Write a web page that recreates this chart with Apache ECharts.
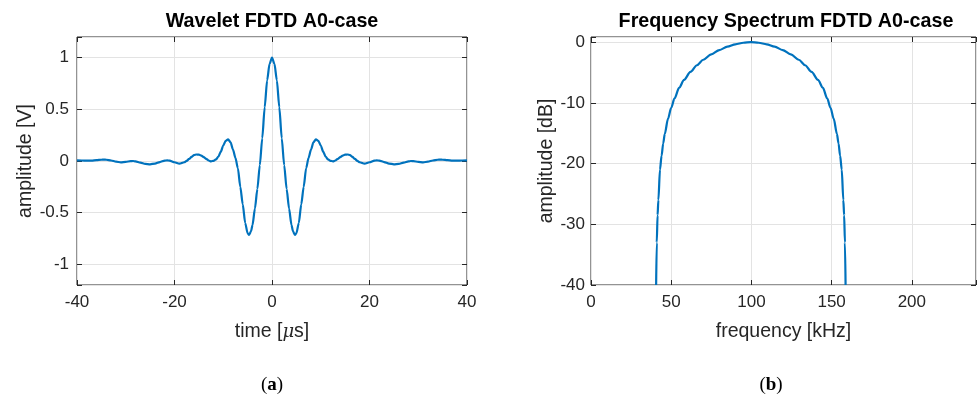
<!DOCTYPE html>
<html><head><meta charset="utf-8">
<script src="https://cdn.jsdelivr.net/npm/echarts@6/dist/echarts.min.js"></script>
<style>html,body{margin:0;padding:0;background:#fff}#c{width:979px;height:396px}</style>
</head><body><div id="c"></div>
<script>
// ---- Wavelet (time domain) ----
const timeUs = [-40,-39,-38,-37,-36,-35,-34.5,-34,-33,-32,-31,-30,-29,-28.5,-28,-27,-26,-25,-24,-23,-22,-21.5,-21,-20,-19,-18,-17.5,-17,-16.5,-16,-15.5,-15,-14.5,-14,-13.5,-13,-12.5,-12,-11.5,-11,-10.5,-10,-9.5,-9,-8.5,-8,-7.5,-7,-6.5,-6,-5.5,-5,-4.7,-4.3,-4,-3.5,-3,-2.5,-2,-1.5,-1,-0.5,0,0.5,1,1.5,2,2.5,3,3.5,4,4.3,4.7,5,5.5,6,6.5,7,7.5,8,8.5,9,9.5,10,10.5,11,11.5,12,12.5,13,13.5,14,14.5,15,15.5,16,16.5,17,17.5,18,19,20,21,21.5,22,23,24,25,26,27,28,28.5,29,30,31,32,33,34,34.5,35,36,37,38,39,40];
const waveletV = [0.006,0.005,0.004,0.004,0.008,0.012,0.013,0.012,0.005,-0.006,-0.013,-0.008,-0.002,0.0,-0.004,-0.015,-0.027,-0.032,-0.025,-0.01,0.004,0.006,0.003,-0.012,-0.026,-0.012,0.002,0.02,0.04,0.057,0.063,0.062,0.052,0.037,0.02,0.005,-0.003,0.002,0.015,0.042,0.09,0.15,0.195,0.21,0.18,0.11,0.03,-0.07,-0.25,-0.42,-0.60,-0.70,-0.715,-0.68,-0.62,-0.46,-0.27,-0.04,0.22,0.52,0.78,0.94,1.0,0.94,0.78,0.52,0.22,-0.04,-0.27,-0.46,-0.62,-0.68,-0.715,-0.70,-0.60,-0.42,-0.25,-0.07,0.03,0.11,0.18,0.21,0.195,0.15,0.09,0.042,0.015,0.002,-0.003,0.005,0.02,0.037,0.052,0.062,0.063,0.057,0.04,0.02,0.002,-0.012,-0.026,-0.012,0.003,0.006,0.004,-0.01,-0.025,-0.032,-0.027,-0.015,-0.004,0.0,-0.002,-0.008,-0.013,-0.006,0.005,0.012,0.013,0.012,0.008,0.004,0.004,0.005,0.006];
const waveXTicks = [-40,-20,0,20,40];
const waveYTicks = [-1,-0.5,0,0.5,1];

// ---- Frequency spectrum ----
const freqKHz = [40.6,41,41.5,42,43,44,45,46,48,50,52,55,58,62,66,70,75,80,85,90,95,99.7,104.5,109.5,114.5,119.5,124.5,129.5,133.5,137.5,141.5,144.5,147.3,149.3,151.3,153.3,154.3,155.3,156.3,157.3,157.8,158.3,158.7];
const spectrumDB = [-40,-33,-28.5,-26,-21,-18.7,-16.7,-15.1,-12.6,-10.8,-9.3,-7.5,-6.2,-4.9,-3.8,-2.9,-2.0,-1.3,-0.75,-0.35,-0.1,0,-0.1,-0.35,-0.75,-1.3,-2.0,-2.9,-3.8,-4.9,-6.2,-7.5,-9.3,-10.8,-12.6,-15.1,-16.7,-18.7,-21,-26,-28.5,-33,-40];
const specXTicks = [0,50,100,150,200];
const specYTicks = [-40,-30,-20,-10,0];

const AX = '#262626', GRID = '#e3e3e3', LINE = '#0072BD';
const FONT = 'Liberation Sans';
const tickFmt = ticks => v => ticks.some(t => Math.abs(t - v) < 1e-9) ? String(v) : '';

function mainX(grid, min, max, interval, ticks, name, extra) {
  return Object.assign({
    type: 'value', gridIndex: grid, min, max, interval, position: 'bottom',
    axisLine: {show: false, onZero: false},
    axisTick: {show: true, inside: true, length: 5, lineStyle: {color: AX}},
    axisLabel: {formatter: tickFmt(ticks), color: AX, fontFamily: FONT, fontSize: 17, margin: 9},
    splitLine: {show: true, lineStyle: {color: GRID, width: 1}},
    name, nameLocation: 'middle', nameGap: 37,
    nameTextStyle: {color: AX, fontFamily: FONT, fontSize: 19.5}
  }, extra || {});
}
function mainY(grid, min, max, interval, ticks, name, gap, margin) {
  const o = {
    type: 'value', gridIndex: grid, min, max, position: 'left',
    axisLine: {show: false, onZero: false},
    axisTick: {show: true, inside: true, length: 5, lineStyle: {color: AX}},
    axisLabel: {formatter: tickFmt(ticks), color: AX, fontFamily: FONT, fontSize: 17, margin},
    splitLine: {show: true, lineStyle: {color: GRID, width: 1}},
    name, nameLocation: 'middle', nameGap: gap,
    nameTextStyle: {color: AX, fontFamily: FONT, fontSize: 19.5}
  };
  if (interval != null) o.interval = interval; else o.splitNumber = 5;
  return o;
}
function tickOnly(grid, min, max, interval, pos) {
  const o = {
    type: 'value', gridIndex: grid, min, max, position: pos,
    axisLine: {show: false, onZero: false},
    axisTick: {show: true, inside: true, length: 5, lineStyle: {color: AX}},
    axisLabel: {show: false}, splitLine: {show: false}
  };
  if (interval != null) o.interval = interval; else o.splitNumber = 5;
  return o;
}

const chart = echarts.init(document.getElementById('c'), null, {renderer: 'canvas'});
chart.setOption({
  animation: false,
  backgroundColor: '#fff',
  grid: [
    {left: 77, top: 37, width: 390, height: 248, show: true, borderColor: AX, borderWidth: 1, containLabel: false},
    {left: 591, top: 37, width: 392, height: 248, show: true, borderColor: AX, borderWidth: 1, containLabel: false}
  ],
  xAxis: [
    mainX(0, -40, 40, 20, waveXTicks, 'time [{mu|μ}s]', {nameTextStyle: {color: AX, fontFamily: FONT, fontSize: 19.5,
      rich: {mu: {fontFamily: 'DejaVu Serif', fontStyle: 'italic', fontSize: 18, color: AX}}}}),
    mainX(1, 0, 240, 50, specXTicks, 'frequency [kHz]'),
    tickOnly(0, -40, 40, 20, 'top'),
    tickOnly(1, 0, 240, 50, 'top')
  ],
  yAxis: [
    mainY(0, -1.2, 1.2, null, waveYTicks, 'amplitude [V]', 40, 8),
    mainY(1, -40, 0.85, 10, specYTicks, 'amplitude [dB]', 34, 6),
    tickOnly(0, -1.2, 1.2, null, 'right'),
    tickOnly(1, -40, 0.85, 10, 'right')
  ],
  series: [
    {type: 'line', xAxisIndex: 0, yAxisIndex: 0, showSymbol: false, smooth: 0.25, smoothMonotone: 'x',
     data: timeUs.map((t, i) => [t, waveletV[i]]),
     lineStyle: {color: LINE, width: 2.2}, itemStyle: {color: LINE}},
    {type: 'line', xAxisIndex: 1, yAxisIndex: 1, showSymbol: false, smooth: 0.3, smoothMonotone: 'x',
     data: freqKHz.map((f, i) => [f, spectrumDB[i]]),
     lineStyle: {color: LINE, width: 2.2}, itemStyle: {color: LINE}}
  ],
  graphic: [
    {type: 'text', x: 272, y: 22, style: {text: 'Wavelet FDTD A0-case', align: 'center', verticalAlign: 'middle',
      font: 'bold 19.7px "Liberation Sans"', fill: '#000'}},
    {type: 'text', x: 786, y: 22, style: {text: 'Frequency Spectrum FDTD A0-case', align: 'center', verticalAlign: 'middle',
      font: 'bold 19.7px "Liberation Sans"', fill: '#000'}},
    {type: 'text', x: 272, y: 385, style: {text: '{p|(}{b|a}{p|)}', align: 'center', verticalAlign: 'middle',
      rich: {p: {fontFamily: 'Liberation Serif', fontSize: 19, color: '#000'},
             b: {fontFamily: 'Liberation Serif', fontWeight: 'bold', fontSize: 19, color: '#000'}}}},
    {type: 'text', x: 771, y: 385, style: {text: '{p|(}{b|b}{p|)}', align: 'center', verticalAlign: 'middle',
      rich: {p: {fontFamily: 'Liberation Serif', fontSize: 19, color: '#000'},
             b: {fontFamily: 'Liberation Serif', fontWeight: 'bold', fontSize: 19, color: '#000'}}}}
  ]
});
</script></body></html>
